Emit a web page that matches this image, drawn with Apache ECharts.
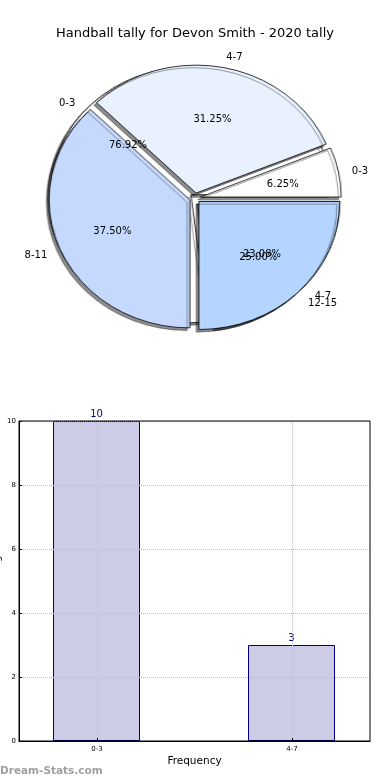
<!DOCTYPE html>
<html><head><meta charset="utf-8">
<script src="https://cdn.jsdelivr.net/npm/echarts@6/dist/echarts.min.js"></script>
<style>
html,body{margin:0;padding:0;background:#fff;overflow:hidden;width:390px;height:780px}
#wrap{position:relative;width:390px;height:780px;overflow:hidden}
#pie{position:absolute;left:0;top:0;width:390px;height:400px;transform:scaleX(1.1);transform-origin:195px 0}
#main{position:absolute;left:0;top:0;width:390px;height:780px}
</style></head><body>
<div id="wrap"><div id="pie"></div><div id="main"></div></div>
<script>
// ---- data ----
const titleText = 'Handball tally for Devon Smith - 2020 tally';
const innerCategories = ['0-3', '4-7'];
const innerValues = [10, 3];
const outerCategories = ['0-3', '4-7', '8-11', '12-15'];
const outerValues = [1, 5, 6, 4];
const barCategories = ['0-3', '4-7'];
const barValues = [10, 3];
const barPositions = [0, 1];
const yAxisMin = 0, yAxisMax = 10, yAxisStep = 2;
const xAxisName = 'Frequency';
const yAxisName = 'Score Range';
const watermarkText = 'Dream-Stats.com';

// ---- style ----
const FONT = 'DejaVu Sans';
const CX = 195, CY = 198, R = 128, SX = 1.1, EXPLODE = 5;
const innerColors = ['#ffffff', '#e9f1ff'];
const outerColors = ['#ffffff', '#e9f1ff', '#c5d9ff', '#b4d5ff'];

function pieData(cats, vals, colors) {
  return cats.map((c, i) => {
    const d = { name: c, value: vals[i], selected: true };
    if (colors) d.itemStyle = { color: colors[i] };
    return d;
  });
}
const common = {
  type: 'pie', center: [CX, CY], startAngle: 0, clockwise: false,
  selectedMode: 'multiple', selectedOffset: EXPLODE, silent: true,
  avoidLabelOverlap: false, emphasis: { disabled: true }, percentPrecision: 2
};
function shapeSeries(cats, vals, colors) {
  return Object.assign({}, common, {
    radius: [0, R], label: { show: false }, labelLine: { show: false },
    itemStyle: { borderColor: '#000', borderWidth: 0.8, shadowColor: 'rgba(0,0,0,0.45)', shadowBlur: 0, shadowOffsetX: -2.5, shadowOffsetY: 2.6 },
    data: pieData(cats, vals, colors)
  });
}
function stretch(p) {
  const r = p.labelRect;
  const ax = p.align === 'left' ? r.x : (p.align === 'right' ? r.x + r.width : r.x + r.width / 2);
  return { dx: (ax - CX) * (SX - 1), dy: 2 };
}
const clear = { color: 'rgba(0,0,0,0)', borderWidth: 0 };
function pctSeries(cats, vals) {
  return Object.assign({}, common, {
    radius: [R * 0.153, R], itemStyle: clear, labelLine: { show: false },
    label: { show: true, position: 'inside', formatter: p => p.percent.toFixed(2) + '%', fontSize: 10, color: '#000', fontFamily: FONT },
    labelLayout: stretch, data: pieData(cats, vals)
  });
}
function nameSeries(cats, vals) {
  return Object.assign({}, common, {
    radius: [0, R], itemStyle: clear,
    labelLine: { show: false, length: R * 0.1, length2: 0 },
    label: { show: true, position: 'outside', formatter: '{b}', distanceToLabelLine: 0, fontSize: 10, color: '#000', fontFamily: FONT },
    labelLayout: stretch, data: pieData(cats, vals)
  });
}

const pieChart = echarts.init(document.getElementById('pie'), null, { renderer: 'canvas' });
pieChart.setOption({
  animation: false,
  series: [shapeSeries(innerCategories, innerValues, innerColors), shapeSeries(outerCategories, outerValues, outerColors)]
});

const main = echarts.init(document.getElementById('main'), null, { renderer: 'canvas' });
main.setOption({
  animation: false,
  backgroundColor: 'transparent',
  title: { text: titleText, left: 'center', top: 22, textStyle: { fontFamily: FONT, fontSize: 13, fontWeight: 'normal', color: '#000' } },
  graphic: [{ type: 'text', left: 0, top: 766, style: { text: watermarkText, fill: '#a0a0a0', font: 'bold 10.5px "DejaVu Sans"' } }],
  grid: [
    { left: 19, right: 20, top: 421, bottom: 39, show: true, z: 4, borderColor: '#000', borderWidth: 1, backgroundColor: 'transparent', containLabel: false, outerBoundsMode: 'none' },
    { left: -1, right: 1, top: 421, bottom: 39, containLabel: false, outerBoundsMode: 'none' }
  ],
  xAxis: [{
    gridIndex: 0, type: 'value', min: -0.4, max: 1.4, z: 3,
    axisLine: { show: true, onZero: false, lineStyle: { color: '#000', width: 1 } },
    axisTick: { show: true, inside: true, length: 3, customValues: barPositions, lineStyle: { color: '#000' } },
    axisLabel: { customValues: barPositions, formatter: v => barCategories[barPositions.indexOf(v)] || '', fontSize: 7, color: '#000', fontFamily: FONT, margin: 5 },
    splitLine: { show: true, lineStyle: { type: 'dotted', color: '#bbbbbb', width: 1 } },
    name: xAxisName, nameLocation: 'middle', nameGap: 15, nameMoveOverlap: false,
    nameTextStyle: { fontFamily: FONT, fontSize: 10.5, color: '#000' }
  }, {
    gridIndex: 1, type: 'category', data: barCategories, show: false
  }],
  yAxis: [{
    gridIndex: 0, type: 'value', min: yAxisMin, max: yAxisMax, interval: yAxisStep, z: 3,
    axisLine: { show: true, onZero: false, lineStyle: { color: '#000', width: 1 } },
    axisTick: { show: true, inside: true, length: 3, lineStyle: { color: '#000' } },
    axisLabel: { fontSize: 7, color: '#000', fontFamily: FONT, margin: 3 },
    splitLine: { show: true, lineStyle: { type: 'dotted', color: '#bbbbbb', width: 1 } },
    name: yAxisName, nameLocation: 'middle', nameGap: 17, nameRotate: 90, nameMoveOverlap: false,
    nameTextStyle: { fontFamily: FONT, fontSize: 10, color: '#000' }
  }, {
    gridIndex: 1, type: 'value', min: yAxisMin, max: yAxisMax, interval: yAxisStep, show: false
  }],
  series: [
    pctSeries(innerCategories, innerValues), nameSeries(innerCategories, innerValues),
    pctSeries(outerCategories, outerValues), nameSeries(outerCategories, outerValues),
    {
      type: 'bar', silent: true, xAxisIndex: 1, yAxisIndex: 1, z: 1,
      data: barValues, barWidth: 87,
      itemStyle: { color: '#ccccE6', borderColor: '#000080', borderWidth: 1 },
      label: { show: true, position: 'top', distance: 2, color: '#000080', fontSize: 10, fontFamily: FONT }
    }
  ]
});
</script>
</body></html>
